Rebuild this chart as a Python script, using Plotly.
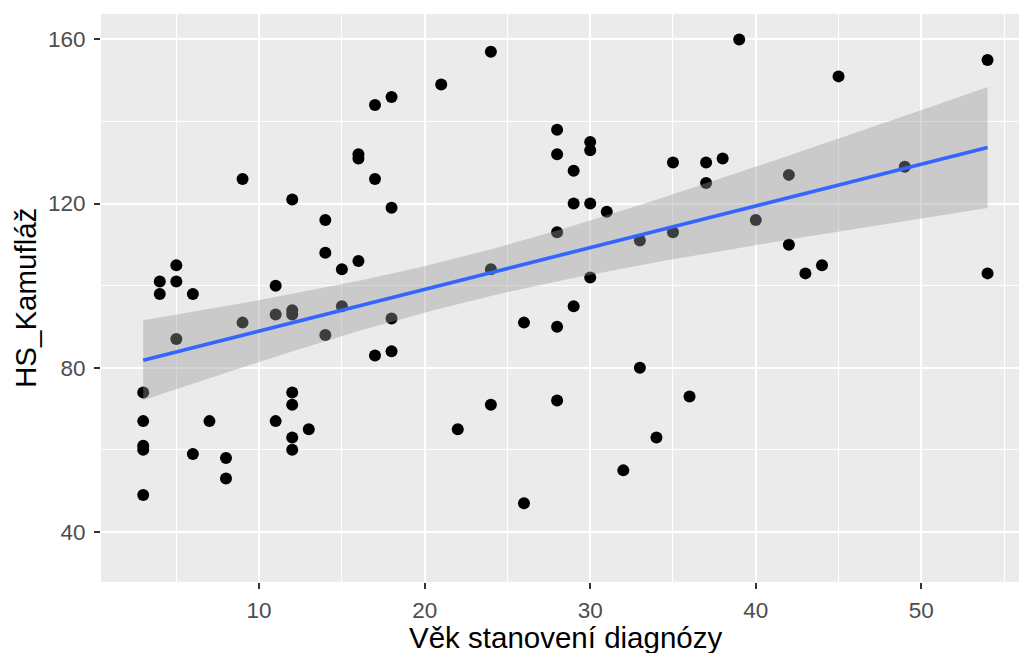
import numpy as np
import plotly.graph_objects as go

# Age at diagnosis (years) and HS_Kamufláž score, one entry per respondent
vek = [3, 3, 3, 3, 3,
       4, 4,
       5, 5, 5,
       6, 6,
       7,
       8, 8,
       9, 9,
       11, 11, 11,
       12, 12, 12, 12, 12, 12, 12,
       13,
       14, 14, 14,
       15, 15,
       16, 16, 16,
       17, 17, 17,
       18, 18, 18, 18,
       21,
       22,
       24, 24, 24,
       26, 26,
       28, 28, 28, 28, 28,
       29, 29, 29,
       30, 30, 30, 30,
       31,
       32,
       33, 33,
       34,
       35, 35,
       36,
       37, 37,
       38,
       39,
       40,
       42, 42,
       43,
       44,
       45,
       49,
       54, 54]
kamuflaz = [74, 67, 61, 60, 49,
            101, 98,
            105, 101, 87,
            98, 59,
            67,
            58, 53,
            126, 91,
            100, 93, 67,
            121, 94, 93, 74, 71, 63, 60,
            65,
            116, 108, 88,
            104, 95,
            132, 131, 106,
            144, 126, 83,
            146, 119, 92, 84,
            149,
            65,
            157, 104, 71,
            91, 47,
            138, 132, 113, 90, 72,
            128, 120, 95,
            135, 133, 120, 102,
            118,
            55,
            111, 80,
            63,
            130, 113,
            73,
            130, 125,
            131,
            160,
            116,
            127, 110,
            103,
            105,
            151,
            129,
            155, 103]

x_ticks = [10, 20, 30, 40, 50]
y_ticks = [40, 80, 120, 160]

# Linear fit with a 95 % confidence band for the mean
x = np.asarray(vek, dtype=float)
y = np.asarray(kamuflaz, dtype=float)
n = len(x)
b1, b0 = np.polyfit(x, y, 1)
resid = y - (b0 + b1 * x)
s = np.sqrt(np.sum(resid ** 2) / (n - 2))
sxx = np.sum((x - x.mean()) ** 2)
t_crit = 1.9897  # Student t, 0.975 quantile, df = n - 2
xs = np.linspace(x.min(), x.max(), 80)
fit = b0 + b1 * xs
se = s * np.sqrt(1.0 / n + (xs - x.mean()) ** 2 / sxx)
upper = fit + t_crit * se
lower = fit - t_crit * se

FONT = "Liberation Sans, Arial, sans-serif"

fig = go.Figure()
fig.add_trace(go.Scatter(
    x=vek, y=kamuflaz, mode="markers",
    marker=dict(color="black", size=12, line=dict(width=0)),
    hoverinfo="x+y", showlegend=False,
))
fig.add_trace(go.Scatter(
    x=np.concatenate([xs, xs[::-1]]), y=np.concatenate([upper, lower[::-1]]),
    mode="lines", fill="toself", fillcolor="rgba(153,153,153,0.4)",
    line=dict(width=0), hoverinfo="skip", showlegend=False,
))
fig.add_trace(go.Scatter(
    x=xs, y=fit, mode="lines", line=dict(color="#3366FF", width=3.6),
    hoverinfo="skip", showlegend=False,
))

fig.update_layout(
    width=1019, height=653,
    margin=dict(l=101, r=0, t=14, b=71),
    paper_bgcolor="white", plot_bgcolor="#EBEBEB",
    font=dict(family=FONT, color="#4D4D4D", size=22.5),
    xaxis=dict(
        range=[0.45, 55.9], tickvals=x_ticks, ticks="outside", ticklen=6,
        tickwidth=2, tickcolor="#333333", showgrid=True, gridcolor="white",
        gridwidth=2, zeroline=False, showline=False,
        minor=dict(dtick=5, tick0=0, showgrid=True, gridcolor="white",
                   gridwidth=1, ticks=""),
        tickfont=dict(family=FONT, size=22.5, color="#4D4D4D"),
        ticklabelstandoff=2,
    ),
    yaxis=dict(
        range=[27.8, 166.2], tickvals=y_ticks, ticks="outside", ticklen=6,
        tickwidth=2, tickcolor="#333333", showgrid=True, gridcolor="white",
        gridwidth=2, zeroline=False, showline=False,
        minor=dict(dtick=20, tick0=0, showgrid=True, gridcolor="white",
                   gridwidth=1, ticks=""),
        tickfont=dict(family=FONT, size=22.5, color="#4D4D4D"),
        ticklabelstandoff=4,
    ),
    annotations=[
        dict(text="Věk stanovení diagnózy", xref="paper", yref="paper",
             x=(565.5 - 101) / 918, y=(582 - 637) / 568,
             xanchor="center", yanchor="middle", showarrow=False,
             font=dict(family=FONT, size=29.5, color="black")),
        dict(text="HS_Kamufláž", xref="paper", yref="paper",
             x=(25 - 101) / 918, y=0.5, textangle=-90,
             xanchor="center", yanchor="middle", showarrow=False,
             font=dict(family=FONT, size=29.5, color="black")),
    ],
)

fig.write_html("out.html")
